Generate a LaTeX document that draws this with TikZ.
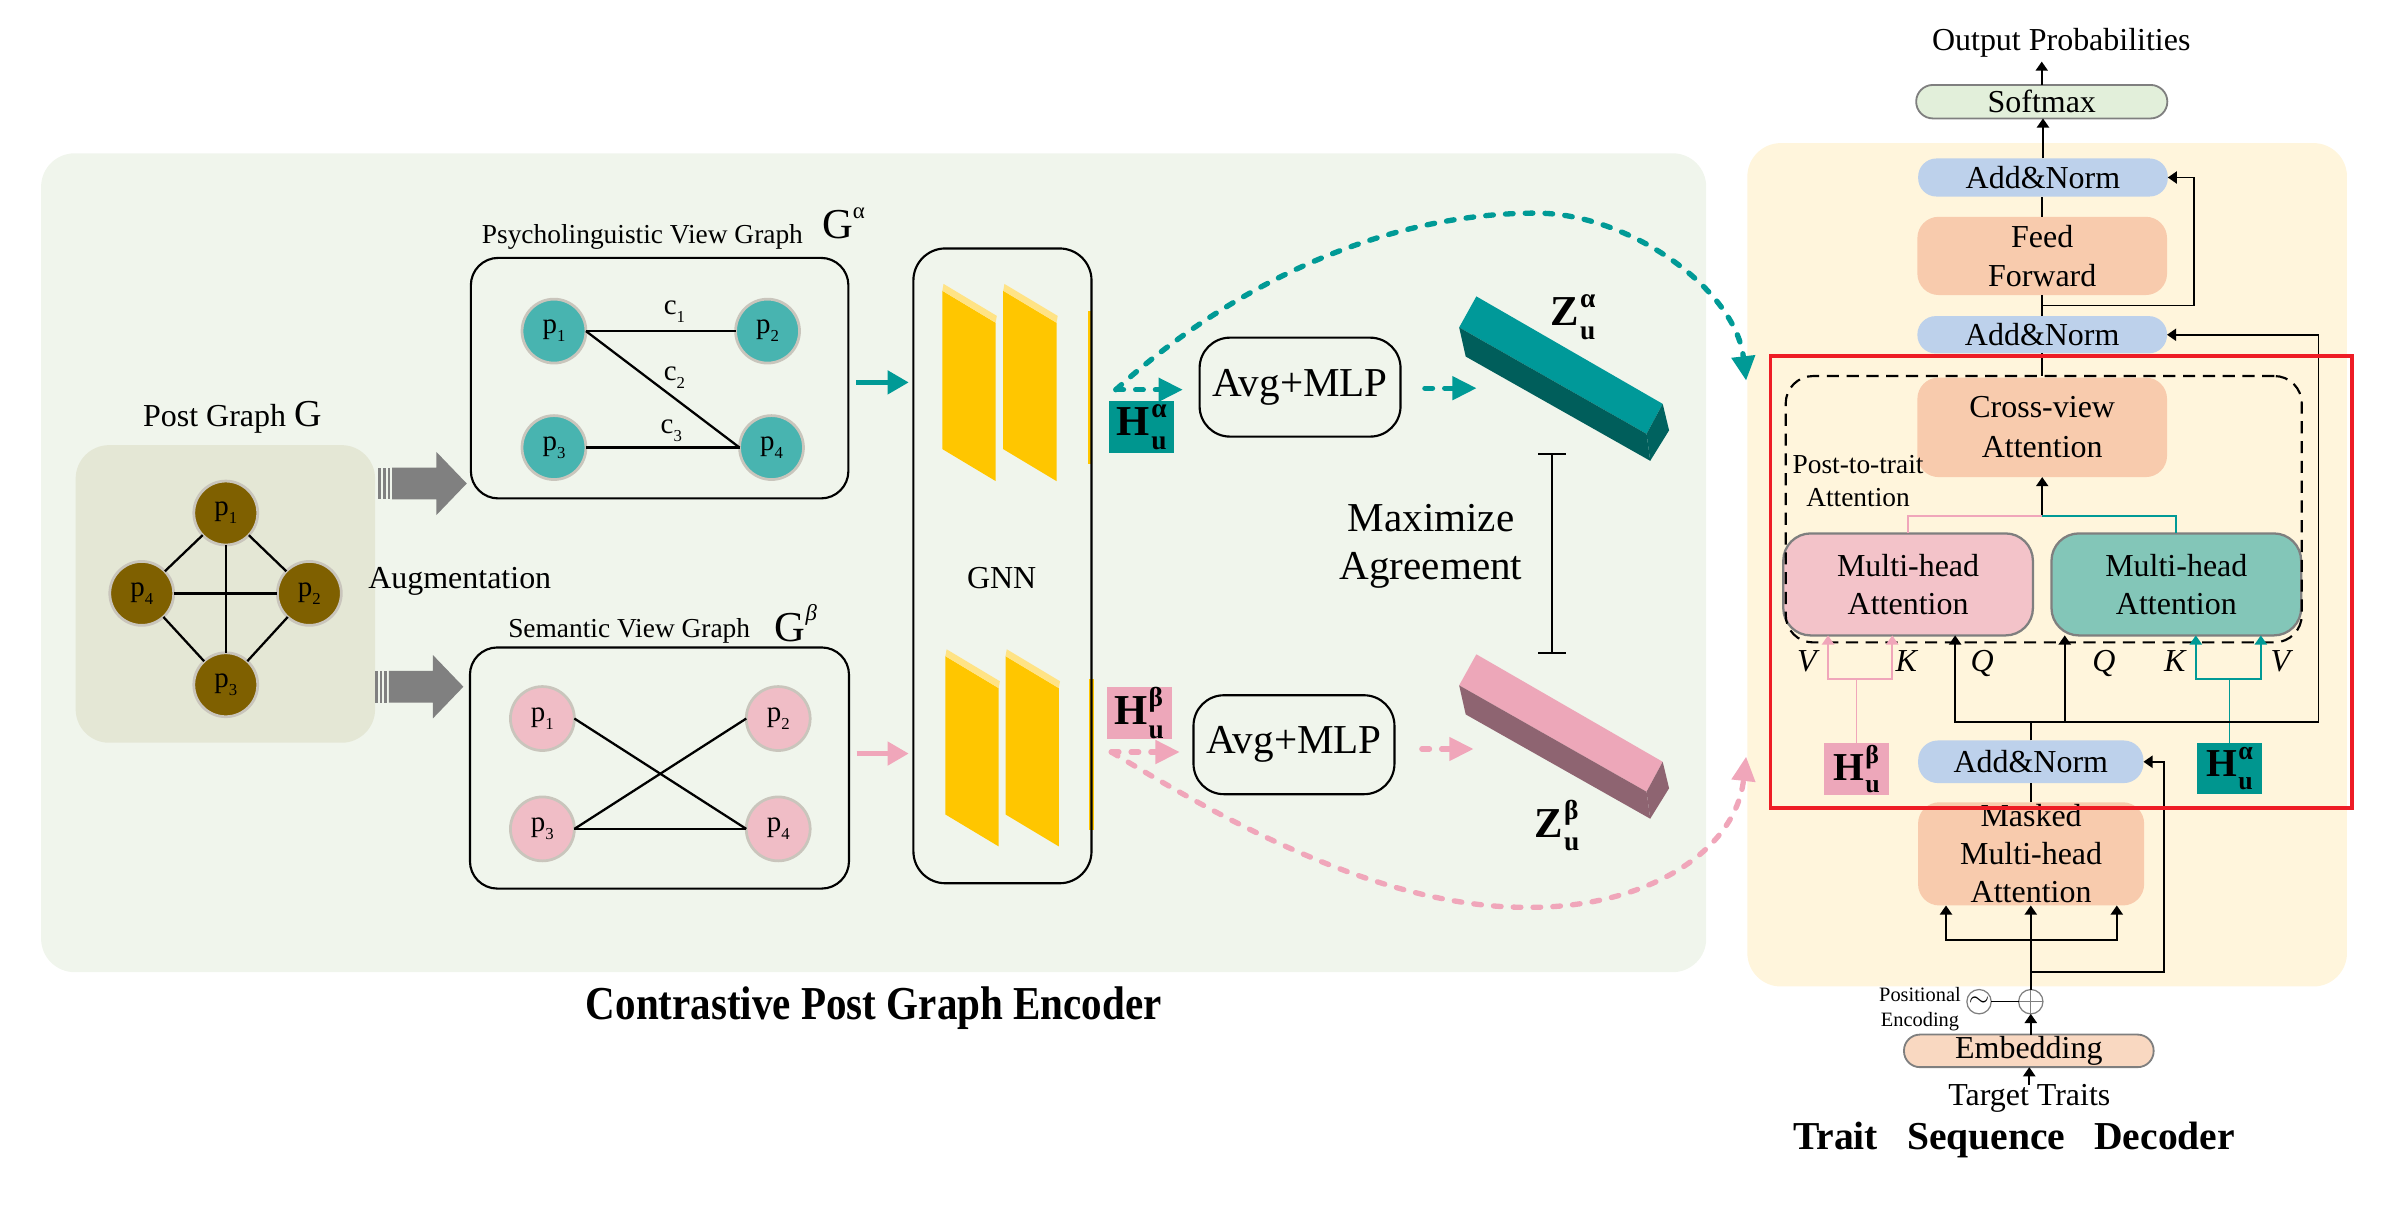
\documentclass[tikz,border=0pt]{standalone}
\usepackage{fontspec}
\setmainfont{Liberation Serif}
\usetikzlibrary{arrows.meta, calc}

\definecolor{leftbg}{HTML}{F0F5EC}
\definecolor{rightbg}{HTML}{FFF5DC}
\definecolor{postbg}{HTML}{E4E7D5}
\definecolor{postbrown}{HTML}{7F6000}
\definecolor{nodering}{HTML}{C9C5BC}
\definecolor{nodeteal}{HTML}{48B4B0}
\definecolor{nodepink}{HTML}{F0BDC6}
\definecolor{arrowgray}{HTML}{808080}
\definecolor{tealarr}{HTML}{009A96}
\definecolor{pinkarr}{HTML}{F0A6BA}
\definecolor{slabyellow}{HTML}{FFC600}
\definecolor{slablight}{HTML}{FFE385}
\definecolor{hteal}{HTML}{00968F}
\definecolor{hpink}{HTML}{EDA7BA}
\definecolor{barteal}{HTML}{009999}
\definecolor{bartealdark}{HTML}{005E5B}
\definecolor{bartealend}{HTML}{00625F}
\definecolor{barpink}{HTML}{EDA7B9}
\definecolor{barpinkdark}{HTML}{8E6471}
\definecolor{softgreen}{HTML}{E2EFDA}
\definecolor{normblue}{HTML}{BDD1EB}
\definecolor{attnorange}{HTML}{F8CBAD}
\definecolor{attnpink}{HTML}{F3C3C9}
\definecolor{attnteal}{HTML}{83C6B8}
\definecolor{embpeach}{HTML}{F9D8C1}
\definecolor{boxgray}{HTML}{7F7F7F}
\definecolor{focusred}{HTML}{EE1C25}

\newcommand\psub[2]{#1\raisebox{-0.28em}{\fontsize{11}{11}\selectfont#2}}
\newcommand\Hsym[3]{{\bfseries#1\kern0.8pt\rlap{\raisebox{0.42em}{\fontsize{#3}{#3}\selectfont#2}}\raisebox{-0.32em}{\fontsize{#3}{#3}\selectfont u}}}

\newcommand\DrawSlab[2]{
	\fill[slabyellow] (#1,#2) -- ++(35,21) -- ++(0,104) -- ++(-35,-21) -- cycle;
	\fill[slablight] (#1,#2) -- ++(35,21) -- ++(0.8,-4.5) -- ++(-35,-21) -- cycle;
}
\newcommand\DrawBar[4]{
	\begin{scope}[shift={(0,#1)}]
		\fill[#2] (969.8,194.7) -- (1092.2,265.3) -- (1081.6,285) -- (958.5,215.1) -- cycle;
		\fill[#3] (958.5,215.1) -- (1081.6,285) -- (1084,302.7) -- (962.8,234.2) -- cycle;
		\fill[#4] (1092.2,265.3) -- (1096.4,282.7) -- (1084,302.7) -- (1081.6,285) -- cycle;
	\end{scope}
}
\newcommand\BlockArrow[2]{
	\foreach \s in {0,3,6}
	{
		\fill[arrowgray] (#1+\s,#2-10.4) rectangle ++(1.8,20.8);
	}
	\fill[arrowgray] (#1+9,#2-10.4) -- (#1+38,#2-10.4) -- (#1+38,#2-20.8) -- (#1+58,#2)
		-- (#1+38,#2+20.8) -- (#1+38,#2+10.4) -- (#1+9,#2+10.4) -- cycle;
}

\tikzset{
	f18/.style={font=\fontsize{18}{21}\selectfont},
	f19/.style={font=\fontsize{19}{21}\selectfont},
	f21/.style={font=\fontsize{21}{25}\selectfont},
	gedge/.style={line width=1.5pt},
	graphbox/.style={draw=black, line width=1.4pt, rounded corners=18pt},
	mlpbox/.style={draw=black, line width=1.4pt, rounded corners=20pt, minimum width=132pt, minimum height=65pt, font=\fontsize{27}{30}\selectfont},
	postnode/.style={circle, fill=postbrown, draw=nodering, line width=1.8pt, minimum size=42pt, font=\fontsize{19}{20}\selectfont},
	tealnode/.style={postnode, fill=nodeteal},
	pinknode/.style={postnode, fill=nodepink},
	hmark/.style={minimum width=42.5pt, minimum height=34pt, font=\fontsize{28}{28}\selectfont},
	hmarkdec/.style={minimum width=42.5pt, minimum height=34pt, font=\fontsize{26}{26}\selectfont},
	tarrow/.style={draw=tealarr, line width=3.5pt, -{Triangle[length=14pt,width=15pt]}},
	parrow/.style={tarrow, draw=pinkarr},
	tdash/.style={draw=tealarr, line width=3.5pt, line cap=round, dash pattern=on 5pt off 8pt, -{Triangle[length=16pt,width=15pt]}},
	pdash/.style={tdash, draw=pinkarr},
	darr/.style={line width=1.2pt, -{Triangle[length=6pt,width=8pt]}},
	pinkline/.style={draw=pinkarr, line width=1.2pt},
	tealline/.style={draw=tealarr, line width=1.2pt},
	parr/.style={pinkline, -{Triangle[length=6pt,width=8pt]}},
	tarr/.style={tealline, -{Triangle[length=6pt,width=8pt]}},
	normbox/.style={f21, fill=normblue, rounded corners=12pt, minimum width=164pt},
	attnbox/.style={f21, fill=attnorange, rounded corners=14pt, minimum width=164pt, align=center},
	mhbox/.style={f21, draw=boxgray, line width=1.5pt, rounded corners=18pt, minimum width=164pt, minimum height=67pt, align=center},
}

\begin{document}
\begin{tikzpicture}[x=1pt, y=-1pt, every node/.style={inner sep=0pt, outer sep=0pt}]
	\useasboundingbox (0,0) rectangle (1568,792);

	\fill[leftbg, rounded corners=22pt] (27,100.7) rectangle (1120.8,638.6);
	\fill[rightbg, rounded corners=22pt] (1147.8,94) rectangle (1541.7,648);
	\fill[postbg, rounded corners=22pt] (49.7,292.4) rectangle (246.4,487.9);

% post graph
	\node[postnode] (g1) at (148.3,337) {\psub{p}{1}};
	\node[postnode] (g2) at (203.2,389.8) {\psub{p}{2}};
	\node[postnode] (g3) at (148.3,449.8) {\psub{p}{3}};
	\node[postnode] (g4) at (93.1,389.8) {\psub{p}{4}};
	\foreach \a/\b in {g1/g2, g2/g3, g3/g4, g4/g1, g1/g3, g4/g2}
		\draw[gedge] (\a) -- (\b);
	\node[f21, anchor=base west] (postlabel) at (94,280.3) {Post Graph {\fontsize{25}{25}\selectfont G}};
	\node[f21, anchor=base] (augment) at (302,386.5) {Augmentation};
	\BlockArrow{248.6}{317.6}
	\BlockArrow{246.4}{451.1}

% psycholinguistic view
	\node[graphbox, minimum width=248pt, minimum height=158pt] (psy) at (433.3,248.4) {};
	\node[tealnode] (a1) at (363.9,217.5) {\psub{p}{1}};
	\node[tealnode] (a2) at (504.2,217.5) {\psub{p}{2}};
	\node[tealnode] (a3) at (363.9,294) {\psub{p}{3}};
	\node[tealnode] (a4) at (506.8,294) {\psub{p}{4}};
	\draw[gedge] (a1.east) -- (a2.west);
	\draw[gedge] (a1.east) -- (a4.west);
	\draw[gedge] (a3.east) -- (a4.west);
	\node[f19] (c1) at (443,205) {\psub{c}{1}};
	\node[f19] (c2) at (443,248) {\psub{c}{2}};
	\node[f19] (c3) at (441,283) {\psub{c}{3}};
	\node[f18, anchor=base] (psylabel) at (422,160) {Psycholinguistic View Graph};
	\node[anchor=base west, font=\fontsize{28}{28}\selectfont] (galpha) at (540,156.6) {G\raisebox{0.46em}{\fontsize{15}{15}\selectfont α}};

% semantic view
	\node[graphbox, minimum width=249pt, minimum height=158.4pt] (sem) at (433.2,504.5) {};
	\node[pinknode] (b1) at (356.3,472) {\psub{p}{1}};
	\node[pinknode] (b2) at (511.2,472) {\psub{p}{2}};
	\node[pinknode] (b3) at (356.3,544.5) {\psub{p}{3}};
	\node[pinknode] (b4) at (511.2,544.5) {\psub{p}{4}};
	\draw[gedge] (b1.east) -- (b4.west);
	\draw[gedge] (b3.east) -- (b2.west);
	\draw[gedge] (b3.east) -- (b4.west);
	\node[f18, anchor=base] (semlabel) at (413.3,418.8) {Semantic View Graph};
	\node[anchor=base west, font=\fontsize{28}{28}\selectfont] (gbeta) at (509,421.6) {G\raisebox{0.5em}{\fontsize{15}{15}\selectfont\itshape β}};

% GNN
	\foreach \x/\y in {619/191, 659/191, 621/431, 660.5/431}
	{
		\DrawSlab{\x}{\y}
	}
	\fill[slabyellow] (714.5,204) rectangle (717.5,304.5);
	\fill[slabyellow] (715.5,445.7) rectangle (718.5,545.4);
	\node[graphbox, rounded corners=21pt, minimum width=117pt, minimum height=417pt] (gnn) at (658.5,371.7) {};
	\node[f21] (gnnlabel) at (658,380) {GNN};
	\coordinate (ylvA) at (0,251.2);
	\coordinate (ylvB) at (0,495);
	\draw[tarrow, shorten <=5pt, shorten >=3pt] (psy.east |- ylvA) -- (gnn.west |- ylvA);
	\draw[parrow, shorten <=5pt, shorten >=3pt] (sem.east |- ylvB) -- (gnn.west |- ylvB);

	\node[hmark, fill=hteal] (ha) at (750,280.6) {\Hsym{H}{α}{18}};
	\node[hmark, fill=hpink] (hb) at (748.3,468.5) {\Hsym{H}{β}{18}};
	\node[mlpbox] (mlpa) at (854,254.3) {Avg+MLP};
	\node[mlpbox] (mlpb) at (850,489.2) {Avg+MLP};

% embeddings
	\DrawBar{0}{barteal}{bartealdark}{bartealend}
	\DrawBar{235.1}{barpink}{barpinkdark}{barpinkdark}
	\node[anchor=base west, font=\fontsize{28}{28}\selectfont] (za) at (1018.5,214) {\Hsym{Z}{α}{18}};
	\node[anchor=base west, font=\fontsize{28}{28}\selectfont] (zb) at (1008,550) {\Hsym{Z}{β}{18}};
	\coordinate (zatip) at (970,255);
	\coordinate (zbtip) at (968,492);
	\node[align=center, font=\fontsize{27}{31}\selectfont] (maxag) at (940,358.9) {Maximize\\Agreement};
	\draw[line width=1.3pt, {Bar[width=18pt]}-{Bar[width=18pt]}] (1019.5,297.7) -- (1019.5,429.8);

% dashed flows
	\coordinate (hatail) at (733,256);
	\coordinate (hbtail) at (730,494);
	\coordinate (tin) at (1147,250);
	\coordinate (pin) at (1147,497);
	\draw[tdash, shorten >=11pt] (hatail) -- (hatail -| mlpa.west);
	\draw[pdash, shorten >=9pt] (hbtail) -- (hbtail -| mlpb.west);
	\draw[tdash, shorten <=16pt] (mlpa.east |- zatip) -- (zatip);
	\draw[pdash, shorten <=18pt] (mlpb.east |- zbtip) -- (zbtip);
	\draw[tdash] (hatail) .. controls (800,195) and (900,140) .. (1009,140)
		.. controls (1070,140) and (1140,190) .. (tin);
	\draw[pdash] (hbtail) .. controls (790,530) and (900,596) .. (1002,596)
		.. controls (1080,597) and (1140,560) .. (pin);

	\node[anchor=base, font=\fontsize{31}{31}\selectfont\bfseries] (enctitle) at (574,670) {\scalebox{0.87}[1]{Contrastive Post Graph Encoder}};

% decoder
	\node[f21, anchor=base] (outp) at (1354,33) {Output Probabilities};
	\node[f21, fill=softgreen, draw=boxgray, line width=1.2pt, rounded corners=11pt, minimum width=165pt, minimum height=22pt] (softmax) at (1341.2,66.8) {Softmax};
	\node[normbox, minimum height=25pt] (an1) at (1342,116.6) {Add\&Norm};
	\node[attnbox, minimum height=51.4pt, font=\fontsize{21}{25.6}\selectfont] (ff) at (1341.5,168.1) {Feed\\Forward};
	\node[normbox, minimum height=24.5pt] (an2) at (1341.5,219.9) {Add\&Norm};
	\node[attnbox, minimum height=65.4pt, font=\fontsize{21}{26}\selectfont] (cva) at (1341.5,280.7) {Cross-view\\Attention};
	\node[mhbox, fill=attnpink] (pma) at (1253.4,383.9) {Multi-head\\Attention};
	\node[mhbox, fill=attnteal] (tma) at (1429.6,383.9) {Multi-head\\Attention};
	\node[draw, line width=1.4pt, dash pattern=on 8pt off 5pt, rounded corners=18pt, minimum width=339pt, minimum height=175pt] (dashbox) at (1342.5,334.5) {};
	\node[font=\fontsize{18}{21.8}\selectfont, align=center, anchor=north] (ptt) at (1220.5,299) {Post-to-trait\\Attention};
	\node[hmarkdec, fill=hpink] (hbd) at (1219.5,505.2) {\Hsym{H}{β}{17}};
	\node[hmarkdec, fill=hteal] (had) at (1464.5,504.8) {\Hsym{H}{α}{17}};
	\node[normbox, minimum width=148pt, minimum height=28pt, rounded corners=13pt] (an3) at (1334,500.4) {Add\&Norm};
	\node[attnbox, minimum width=148.5pt, minimum height=67.8pt] (mma) at (1334.2,560.9) {Masked\\Multi-head\\Attention};
	\node[circle, draw=boxgray, line width=0.8pt, minimum size=16pt] (plus) at (1334,658) {};
	\node[circle, draw=boxgray, line width=0.8pt, minimum size=16pt, font=\fontsize{18}{18}\selectfont] (sine) at (1300,658) {$\sim$};
	\node[font=\fontsize{13.4}{16.3}\selectfont, align=center, anchor=east] (posenc) at (1288,663) {Positional\\Encoding};
	\node[f21, fill=embpeach, draw=boxgray, line width=1.2pt, rounded corners=10.5pt, minimum width=164pt, minimum height=21.4pt] (emb) at (1332.7,690.3) {Embedding};
	\node[f21, anchor=base] (tt) at (1333,726.5) {Target Traits};
	\node[anchor=base, font=\fontsize{26}{26}\selectfont\bfseries] (tsd) at (1323,755.3) {Trait\hspace{19pt}Sequence\hspace{19pt}Decoder};

	\foreach \t/\x/\n in {V/1188/lv1, K/1252.6/lk1, Q/1302/lq1, Q/1382/lq2, K/1429/lk2, V/1499/lv2}
		\node[f21, anchor=base] (\n) at (\x,441) {\textit{\t}};

	\draw[darr, shorten >=3pt] (softmax.north) -- (softmax.north |- outp.south);
	\draw[darr] (an1.north) -- (an1.north |- softmax.south);
	\draw[line width=1.2pt] (ff.north) -- (ff.north |- an1.south);
	\draw[line width=1.2pt] (an2.north) -- (an2.north |- ff.south);
	\coordinate (res1) at ($(ff.south)!0.5!(an2.north)$);
	\draw[darr] (res1) -| ($(an1.east)+(17,0)$) -- (an1.east);
	\draw[line width=1.2pt] (an2.south) -- (an2.south |- dashbox.north);
	\coordinate (mj) at (1341.5,339);
	\draw[darr] (mj) -- (cva.south);
	\draw[pinkline] (pma.north) |- (mj);
	\draw[tealline] (tma.north) |- (mj);

	\coordinate (vB) at (1200.8,0);
	\coordinate (kB) at (1243,0);
	\coordinate (kA) at (1442.4,0);
	\coordinate (vA) at (1485.1,0);
	\coordinate (ylvS) at (0,446.2);
	\draw[pinkline] (hbd.north) -- (hbd.north |- ylvS);
	\draw[parr] (hbd.north |- ylvS) -| (vB |- pma.south);
	\draw[parr] (hbd.north |- ylvS) -| (kB |- pma.south);
	\draw[tealline] (had.north) -- (had.north |- ylvS);
	\draw[tarr] (had.north |- ylvS) -| (kA |- tma.south);
	\draw[tarr] (had.north |- ylvS) -| (vA |- tma.south);

	\coordinate (qbus) at (1334,474.4);
	\coordinate (q1) at (1284.3,0);
	\coordinate (q2) at (1356.3,0);
	\coordinate (rtop) at (1523,0);
	\draw[line width=1.2pt] (an3.north) -- (qbus);
	\draw[darr] (qbus) -| (q1 |- pma.south);
	\draw[darr] (qbus) -| (q2 |- tma.south);
	\draw[darr] (qbus) -| (rtop |- an2.east) -- (an2.east);

	\draw[line width=1.2pt] (mma.north) -- (mma.north |- an3.south);
	\coordinate (embj) at (1334,638.3);
	\coordinate (rr) at (1421.4,0);
	\draw[darr] (embj) -| (rr |- an3.east) -- (an3.east);
	\coordinate (mj2) at (1334,617.2);
	\coordinate (m1) at (1278.3,0);
	\coordinate (m3) at (1390.5,0);
	\draw[darr] (plus.north) -- (plus.north |- mma.south);
	\draw[darr] (mj2) -| (m1 |- mma.south);
	\draw[darr] (mj2) -| (m3 |- mma.south);
	\draw[line width=0.8pt, boxgray] (plus.north) -- (plus.south) (plus.west) -- (plus.east);
	\draw[line width=0.8pt] (sine) -- (plus);
	\draw[darr] (plus.south |- emb.north) -- (plus.south);
	\draw[darr] (tt.north) -- (tt.north |- emb.south);

	\draw[focusred, line width=2.5pt] (1163,234) rectangle (1545,531);
\end{tikzpicture}
\end{document}
